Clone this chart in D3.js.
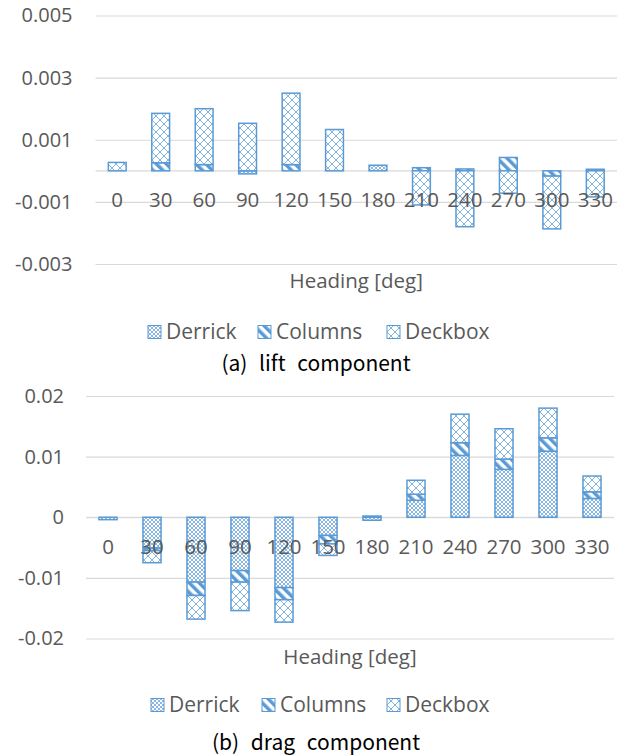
<!DOCTYPE html>
<html>
<head>
<meta charset="utf-8">
<script src="https://cdn.jsdelivr.net/npm/d3@7"></script>
<style>
  body { margin: 0; background: #fff; }
  text { font-family: "Open Sans", sans-serif; }
</style>
</head>
<body>
<svg id="chart"></svg>
<script>
const headings = [0, 30, 60, 90, 120, 150, 180, 210, 240, 270, 300, 330];
const seriesNames = ["Derrick", "Columns", "Deckbox"];

// lift component
const liftDerrick = [0, 0, 0, -0.0001, 0, 0, 0.00018, 0, 0, 0, 0, 0];
const liftColumns = [0, 0.00026, 0.0002, 0, 0.0002, 0, 0, 0.0001, 0.00006, 0.00043, -0.00017, 0.00005];
const liftDeckbox = [0.00027, 0.00159, 0.0018, 0.00153, 0.0023, 0.00133, 0, -0.0011, -0.0018, -0.00072, -0.0017, -0.00084];
const liftTicks = [-0.003, -0.001, 0.001, 0.003, 0.005];

// drag component
const dragDerrick = [-0.0004, -0.0051, -0.0107, -0.0088, -0.0116, -0.003, -0.0005, 0.0028, 0.0102, 0.0079, 0.0109, 0.0031];
const dragColumns = [0, -0.0004, -0.0022, -0.0019, -0.002, -0.0014, 0, 0.001, 0.0021, 0.0017, 0.0022, 0.0011];
const dragDeckbox = [0, -0.002, -0.0039, -0.0047, -0.0037, -0.0019, 0.0002, 0.0023, 0.0047, 0.005, 0.0049, 0.0026];
const dragTicks = [-0.02, -0.01, 0, 0.01, 0.02];

const blue = "#5B9BD5";
const grey = "#595959";

const svg = d3.select("#chart")
  .attr("width", 625)
  .attr("height", 756);

// fill patterns
const defs = svg.append("defs");

const pDerrick = defs.append("pattern")
  .attr("id", "p-derrick")
  .attr("patternUnits", "userSpaceOnUse")
  .attr("width", 4).attr("height", 4);
pDerrick.append("rect").attr("width", 4).attr("height", 4).attr("fill", "#fff");
pDerrick.append("path")
  .attr("d", "M0,0L4,4M4,0L0,4")
  .attr("stroke", blue).attr("stroke-width", 0.9).attr("stroke-opacity", 0.8);

const pColumns = defs.append("pattern")
  .attr("id", "p-columns")
  .attr("patternUnits", "userSpaceOnUse")
  .attr("width", 7).attr("height", 7)
  .attr("patternTransform", "rotate(-45)");
pColumns.append("rect").attr("width", 7).attr("height", 7).attr("fill", "#fff");
pColumns.append("rect").attr("width", 3.5).attr("height", 7).attr("fill", blue);

const pDeckbox = defs.append("pattern")
  .attr("id", "p-deckbox")
  .attr("patternUnits", "userSpaceOnUse")
  .attr("width", 8).attr("height", 8);
pDeckbox.append("rect").attr("width", 8).attr("height", 8).attr("fill", "#fff");
pDeckbox.append("path")
  .attr("d", "M0,0L8,8M8,0L0,8")
  .attr("stroke", blue).attr("stroke-width", 0.9).attr("stroke-opacity", 0.85);

const fills = ["url(#p-derrick)", "url(#p-columns)", "url(#p-deckbox)"];

function drawChart(cfg) {
  const g = svg.append("g");

  const table = headings.map((h, i) => ({
    heading: h,
    Derrick: cfg.series[0][i],
    Columns: cfg.series[1][i],
    Deckbox: cfg.series[2][i]
  }));

  const x = d3.scaleBand()
    .domain(headings)
    .range(cfg.xRange)
    .paddingInner(0.59)
    .paddingOuter(0.295);

  const y = d3.scaleLinear()
    .domain(cfg.domain)
    .range(cfg.yRange);

  // gridlines + value labels
  const yAxis = g.append("g")
    .attr("transform", `translate(${cfg.xRange[0]},0)`)
    .call(d3.axisLeft(y)
      .tickValues(cfg.ticks)
      .tickFormat(d => String(d))
      .tickSize(-(cfg.xRange[1] - cfg.xRange[0]))
      .tickPadding(cfg.labelGap));
  yAxis.select(".domain").remove();
  yAxis.selectAll("line").attr("stroke", "#D9D9D9").attr("stroke-width", 1.2);
  yAxis.selectAll("text")
    .attr("fill", grey)
    .style("font-size", "20px");

  // zero line
  g.append("line")
    .attr("x1", cfg.xRange[0]).attr("x2", cfg.xRange[1])
    .attr("y1", y(0)).attr("y2", y(0))
    .attr("stroke", "#D9D9D9").attr("stroke-width", 1.2);

  // stacked bars
  const stacked = d3.stack()
    .keys(seriesNames)
    .offset(d3.stackOffsetDiverging)(table);

  g.selectAll(".series")
    .data(stacked)
    .enter()
    .append("g")
    .attr("class", "series")
    .attr("fill", (d, i) => fills[i])
    .selectAll("rect")
    .data(d => d.filter(p => p[1] - p[0] !== 0))
    .enter()
    .append("rect")
    .attr("x", d => x(d.data.heading))
    .attr("width", x.bandwidth())
    .attr("y", d => y(Math.max(d[0], d[1])))
    .attr("height", d => Math.abs(y(d[0]) - y(d[1])))
    .attr("stroke", blue)
    .attr("stroke-width", 1.5);

  // category labels
  const xAxis = g.append("g")
    .attr("transform", `translate(0,${y(0)})`)
    .call(d3.axisBottom(x).tickSize(0).tickPadding(22));
  xAxis.select(".domain").remove();
  xAxis.selectAll("text")
    .attr("fill", grey)
    .style("font-size", "20.5px");

  // axis title
  g.append("text")
    .attr("x", (cfg.xRange[0] + cfg.xRange[1]) / 2)
    .attr("y", cfg.titleY)
    .attr("dy", "0.35em")
    .attr("text-anchor", "middle")
    .attr("fill", grey)
    .style("font-size", "20.5px")
    .text("Heading [deg]");

  // legend
  const legend = g.selectAll(".legend")
    .data(seriesNames)
    .enter()
    .append("g")
    .attr("class", "legend")
    .attr("transform", (d, i) => `translate(${cfg.legendX[i]},${cfg.legendY})`);

  legend.append("rect")
    .attr("x", 0)
    .attr("y", -6.5)
    .attr("width", 13)
    .attr("height", 13)
    .attr("fill", (d, i) => fills[i])
    .attr("stroke", blue)
    .attr("stroke-width", 1);

  legend.append("text")
    .attr("x", 18)
    .attr("dy", "0.35em")
    .attr("fill", grey)
    .style("font-size", "21px")
    .text(d => d);

  // caption
  g.append("text")
    .attr("x", 316)
    .attr("y", cfg.captionY)
    .attr("dy", "0.35em")
    .attr("text-anchor", "middle")
    .attr("fill", "#000")
    .style("font-family", "'Noto Sans CJK KR', sans-serif")
    .style("font-size", "21px")
    .style("word-spacing", "7px")
    .text(cfg.caption);
}

drawChart({
  series: [liftDerrick, liftColumns, liftDeckbox],
  ticks: liftTicks,
  domain: [-0.003, 0.005],
  xRange: [95.5, 617],
  yRange: [264, 15.5],
  labelGap: 23,
  titleY: 281,
  legendX: [148, 258, 387],
  legendY: 332,
  captionY: 364,
  caption: "(a) lift component"
});

drawChart({
  series: [dragDerrick, dragColumns, dragDeckbox],
  ticks: dragTicks,
  domain: [-0.02, 0.02],
  xRange: [86, 614],
  yRange: [638.5, 396],
  labelGap: 22,
  titleY: 657,
  legendX: [151, 262, 387],
  legendY: 705,
  captionY: 743,
  caption: "(b) drag component"
});
</script>
</body>
</html>
